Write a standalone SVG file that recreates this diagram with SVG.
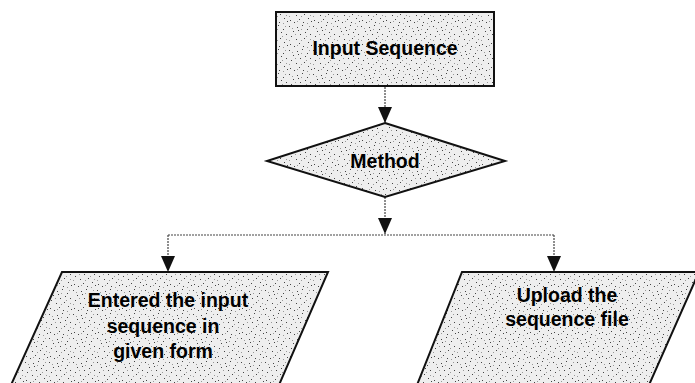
<svg xmlns="http://www.w3.org/2000/svg" width="695" height="383" viewBox="0 0 695 383">
<defs>
<pattern id="speck" width="24" height="24" patternUnits="userSpaceOnUse">
<rect width="24" height="24" fill="#eeeeee"/>
<g fill="#444">
<rect x="1" y="2" width="1" height="1"/><rect x="5" y="7" width="1" height="1"/><rect x="9" y="3" width="1" height="1"/>
<rect x="14" y="1" width="1" height="1"/><rect x="19" y="5" width="1" height="1"/><rect x="22" y="10" width="1" height="1"/>
<rect x="3" y="12" width="1" height="1"/><rect x="8" y="15" width="1" height="1"/><rect x="12" y="10" width="1" height="1"/>
<rect x="16" y="14" width="1" height="1"/><rect x="20" y="18" width="1" height="1"/><rect x="2" y="20" width="1" height="1"/>
<rect x="6" y="22" width="1" height="1"/><rect x="11" y="19" width="1" height="1"/><rect x="15" y="22" width="1" height="1"/>
<rect x="17" y="8" width="1" height="1"/><rect x="10" y="6" width="1" height="1"/><rect x="23" y="21" width="1" height="1"/>
</g>
<g fill="#999">
<rect x="4" y="4" width="1" height="1"/><rect x="13" y="5" width="1" height="1"/><rect x="21" y="2" width="1" height="1"/>
<rect x="7" y="10" width="1" height="1"/><rect x="18" y="12" width="1" height="1"/><rect x="1" y="16" width="1" height="1"/>
<rect x="13" y="16" width="1" height="1"/><rect x="9" y="21" width="1" height="1"/><rect x="19" y="23" width="1" height="1"/>
<rect x="22" y="15" width="1" height="1"/>
</g>
</pattern>
<marker id="arr" viewBox="0 0 16 14" refX="16" refY="7" markerWidth="16" markerHeight="14" markerUnits="userSpaceOnUse" orient="auto">
<path d="M0,0 L16,7 L0,14 Z" fill="#111"/>
</marker>
</defs>
<style>
.shape{fill:url(#speck);stroke:#111;stroke-width:2}
.lbl{font-family:"Liberation Sans",Arial,sans-serif;font-weight:bold;font-size:19.5px;fill:#000;text-anchor:middle}
.conn{fill:none;stroke:#444;stroke-width:1.2;stroke-dasharray:2 1;marker-end:url(#arr)}
.conn0{fill:none;stroke:#444;stroke-width:1.2;stroke-dasharray:2 1}
</style>
<g id="connectors">
<path class="conn" d="M385,87 V123"/>
<path class="conn" d="M385,197 V234"/>
<path class="conn0" d="M168,235 H554"/>
<path class="conn" d="M168,235 V272"/>
<path class="conn" d="M554,235 V272"/>
</g>
<g id="input-sequence">
<rect class="shape" x="276" y="12" width="218" height="74"/>
<text class="lbl" x="385" y="55">Input Sequence</text>
</g>
<g id="method">
<polygon class="shape" points="385,123 505,161 385,197 267,161"/>
<text class="lbl" x="385" y="168">Method</text>
</g>
<g id="entered">
<polygon class="shape" points="62,272 328,272 279,385 11,385"/>
<text class="lbl" x="168" y="307">Entered the input</text>
<text class="lbl" x="163" y="333">sequence in</text>
<text class="lbl" x="163" y="358">given form</text>
</g>
<g id="upload">
<polygon class="shape" points="462,272 699,272 649,385 417,385"/>
<text class="lbl" x="567" y="302">Upload the</text>
<text class="lbl" x="567" y="326">sequence file</text>
</g>
</svg>
